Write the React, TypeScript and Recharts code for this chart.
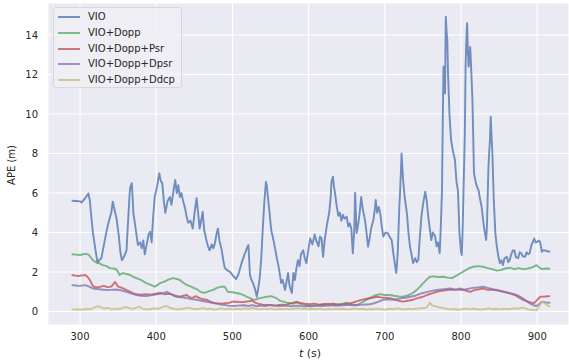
import React from 'react';
import { LineChart, Line, XAxis, YAxis, CartesianGrid, Label } from 'recharts';

// time stamps (s) and APE (m) per method
const vioT = [289, 295, 300, 302, 306, 311, 313, 314, 317, 320, 323, 325, 328, 331, 335, 338, 341, 343, 345, 348, 351, 353, 355, 358, 361, 363, 365, 366, 368, 369, 370, 373, 376, 379, 381, 383, 385, 388, 390, 392, 394, 396, 398, 401, 404, 406, 408, 410, 412, 415, 418, 420, 423, 425, 427, 429, 431, 433, 435, 438, 440, 442, 445, 448, 450, 453, 455, 457, 459, 461, 463, 466, 468, 470, 473, 475, 477, 479, 481, 483, 486, 488, 490, 493, 497, 501, 505, 508, 512, 516, 519, 521, 523, 525, 527, 530, 532, 534, 536, 538, 540, 542, 544, 545, 547, 549, 551, 554, 558, 561, 564, 566, 569, 571, 573, 575, 578, 580, 582, 584, 586, 588, 590, 593, 595, 597, 600, 602, 605, 608, 610, 613, 615, 617, 619, 621, 624, 627, 629, 630, 632, 633, 635, 637, 639, 641, 643, 645, 647, 650, 652, 654, 656, 658, 660, 661, 663, 665, 667, 669, 671, 674, 676, 678, 680, 682, 685, 687, 688, 690, 692, 694, 696, 698, 701, 704, 706, 709, 711, 713, 715, 717, 719, 720, 722, 724, 726, 729, 731, 733, 735, 737, 740, 742, 744, 746, 748, 750, 753, 755, 757, 759, 761, 763, 766, 768, 770, 772, 773, 775, 776, 777, 778, 779, 780, 781, 782, 783, 785, 787, 789, 792, 794, 796, 798, 800, 801, 802, 803, 805, 806, 807, 808, 809, 810, 811, 812, 813, 815, 817, 819, 821, 823, 825, 827, 830, 833, 834, 836, 837, 838, 839, 840, 841, 843, 845, 847, 849, 851, 853, 855, 857, 860, 862, 864, 866, 868, 870, 872, 875, 877, 879, 881, 884, 886, 888, 890, 892, 894, 896, 898, 900, 902, 904, 906, 908, 910, 913, 917];
const vioV = [5.61, 5.6, 5.58, 5.52, 5.7, 5.98, 5.6, 5.14, 3.97, 3.2, 2.45, 2.6, 2.7, 3.3, 4.1, 4.6, 5.0, 5.56, 5.2, 4.7, 3.8, 3.0, 2.6, 2.8, 3.1, 4.5, 5.9, 6.3, 6.5, 5.8, 5.0, 4.2, 3.37, 3.5, 3.2, 3.6, 2.9, 3.5, 3.9, 4.04, 3.5, 4.8, 5.8, 6.3, 7.0, 6.6, 6.5, 5.6, 5.0, 5.6, 5.8, 5.4, 6.2, 6.66, 6.0, 6.4, 5.8, 6.0, 5.65, 5.2, 4.8, 4.5, 4.6, 4.2, 4.9, 5.74, 5.0, 4.2, 4.6, 5.05, 4.1, 3.6, 3.3, 3.1, 3.4, 3.2, 3.45, 3.9, 4.2, 3.6, 3.1, 2.6, 2.2, 2.1, 2.0, 1.8, 1.65, 1.9, 2.45, 2.9, 3.2, 3.37, 1.85, 1.6, 1.44, 1.1, 0.75, 1.2, 1.76, 2.8, 4.3, 5.6, 6.57, 6.4, 5.65, 4.9, 4.1, 3.6, 2.77, 2.2, 1.44, 1.6, 1.09, 1.5, 1.95, 1.3, 0.94, 1.95, 1.6, 2.2, 2.6, 2.3, 2.9, 3.1, 2.7, 2.45, 3.2, 3.7, 3.4, 3.9, 3.6, 3.3, 3.8, 3.7, 2.77, 3.6, 4.38, 5.0, 5.8, 6.57, 6.83, 6.4, 5.9, 5.3, 4.85, 5.0, 4.6, 4.9, 4.7, 4.8, 4.3, 4.47, 4.2, 2.95, 4.2, 6.0, 3.97, 4.4, 5.0, 5.8, 5.2, 4.63, 4.0, 3.28, 3.7, 4.2, 4.63, 5.2, 5.65, 5.0, 5.3, 4.97, 4.3, 3.8, 4.0, 3.97, 3.8, 3.62, 3.0, 2.45, 1.95, 3.0, 5.3, 6.0, 8.0, 6.66, 5.8, 4.97, 4.0, 3.28, 2.9, 2.45, 2.7, 2.5, 2.62, 3.8, 4.8, 5.4, 6.07, 5.6, 4.8, 4.2, 3.62, 4.0, 3.8, 3.3, 3.5, 2.95, 3.8, 6.07, 9.5, 12.4, 12.0, 11.05, 14.93, 14.2, 13.75, 12.0, 9.86, 8.68, 8.2, 7.67, 6.6, 6.1, 3.97, 3.0, 2.86, 4.0, 5.65, 9.0, 12.4, 13.8, 14.6, 13.2, 12.4, 12.9, 13.4, 12.6, 10.7, 7.0, 6.6, 6.3, 6.15, 5.7, 5.3, 4.3, 3.62, 4.3, 7.33, 8.1, 8.68, 9.86, 8.9, 8.18, 5.65, 4.0, 3.28, 2.8, 2.45, 2.6, 2.35, 2.7, 2.77, 2.5, 2.62, 2.9, 3.1, 3.1, 2.75, 2.7, 3.0, 2.95, 2.8, 2.77, 3.0, 2.9, 2.95, 3.3, 3.5, 3.7, 3.5, 3.53, 3.6, 3.5, 3.03, 3.1, 3.1, 3.05, 3.03];

const doppT = [289, 295, 300, 304, 308, 311, 314, 317, 321, 325, 330, 335, 339, 344, 348, 352, 356, 361, 366, 370, 374, 380, 387, 392, 398, 402, 405, 410, 416, 422, 427, 431, 436, 440, 445, 449, 453, 458, 462, 466, 470, 475, 479, 485, 490, 494, 500, 505, 510, 514, 519, 523, 527, 531, 536, 541, 545, 551, 555, 558, 562, 567, 571, 576, 580, 585, 590, 597, 602, 608, 614, 620, 626, 632, 637, 643, 650, 656, 663, 668, 674, 680, 686, 693, 700, 707, 712, 718, 724, 730, 737, 742, 746, 750, 755, 759, 764, 770, 777, 782, 788, 793, 799, 804, 810, 816, 822, 829, 835, 841, 847, 852, 858, 864, 870, 876, 882, 888, 894, 899, 903, 906, 911, 917];
const doppV = [2.9, 2.88, 2.86, 2.9, 2.92, 2.88, 2.75, 2.6, 2.5, 2.45, 2.35, 2.3, 2.2, 2.18, 2.13, 1.85, 1.95, 1.9, 1.85, 1.75, 1.69, 1.6, 1.44, 1.36, 1.26, 1.35, 1.44, 1.5, 1.62, 1.69, 1.65, 1.6, 1.45, 1.35, 1.28, 1.2, 1.14, 1.0, 0.95, 0.98, 1.05, 1.1, 1.19, 1.26, 1.26, 1.0, 0.98, 0.94, 0.9, 0.84, 0.75, 0.68, 0.6, 0.62, 0.68, 0.72, 0.75, 0.78, 0.72, 0.68, 0.55, 0.5, 0.45, 0.42, 0.4, 0.45, 0.38, 0.33, 0.25, 0.3, 0.32, 0.35, 0.4, 0.36, 0.33, 0.38, 0.45, 0.36, 0.33, 0.42, 0.55, 0.68, 0.8, 0.88, 0.84, 0.84, 0.8, 0.76, 0.75, 0.82, 0.94, 1.1, 1.25, 1.43, 1.62, 1.76, 1.78, 1.75, 1.76, 1.72, 1.69, 1.8, 1.93, 2.05, 2.18, 2.27, 2.3, 2.27, 2.2, 2.15, 2.07, 2.1, 2.18, 2.22, 2.15, 2.2, 2.15, 2.18, 2.25, 2.35, 2.22, 2.15, 2.18, 2.17];

const psrT = [289, 294, 298, 303, 307, 310, 313, 316, 318, 322, 326, 331, 336, 341, 344, 346, 348, 350, 355, 361, 366, 370, 374, 380, 387, 393, 399, 405, 411, 418, 424, 431, 436, 440, 444, 448, 452, 457, 461, 466, 471, 475, 479, 485, 492, 497, 500, 505, 511, 517, 522, 526, 530, 535, 540, 545, 550, 556, 561, 566, 570, 575, 580, 584, 589, 595, 602, 608, 614, 620, 626, 632, 637, 643, 648, 654, 660, 666, 672, 678, 684, 689, 695, 701, 707, 713, 718, 724, 730, 737, 743, 750, 756, 762, 768, 774, 780, 786, 792, 799, 805, 812, 818, 823, 829, 835, 841, 847, 853, 858, 864, 870, 876, 882, 888, 895, 899, 904, 910, 917];
const psrV = [1.85, 1.82, 1.8, 1.83, 1.85, 1.75, 1.6, 1.35, 1.26, 1.22, 1.25, 1.3, 1.24, 1.26, 1.4, 1.5, 1.38, 1.26, 1.2, 1.09, 1.0, 0.92, 0.88, 0.85, 0.88, 0.86, 0.9, 0.94, 0.88, 0.9, 0.82, 0.75, 0.8, 0.84, 0.72, 0.7, 0.78, 0.68, 0.62, 0.6, 0.5, 0.45, 0.43, 0.4, 0.43, 0.45, 0.5, 0.5, 0.48, 0.5, 0.52, 0.56, 0.45, 0.38, 0.35, 0.33, 0.33, 0.3, 0.33, 0.35, 0.33, 0.4, 0.45, 0.5, 0.44, 0.4, 0.37, 0.4, 0.35, 0.38, 0.36, 0.4, 0.37, 0.36, 0.38, 0.41, 0.48, 0.55, 0.62, 0.66, 0.7, 0.75, 0.72, 0.7, 0.68, 0.6, 0.55, 0.5, 0.55, 0.6, 0.68, 0.75, 0.85, 0.92, 1.0, 1.05, 1.08, 1.12, 1.1, 1.17, 1.08, 1.0, 1.1, 1.12, 1.17, 1.1, 1.12, 1.09, 1.05, 1.0, 0.92, 0.85, 0.72, 0.58, 0.5, 0.41, 0.55, 0.75, 0.76, 0.78];

const dpsrT = [289, 294, 298, 303, 307, 311, 317, 322, 328, 335, 341, 347, 352, 356, 361, 367, 374, 380, 387, 393, 399, 405, 410, 414, 419, 423, 427, 433, 440, 448, 453, 458, 463, 466, 471, 475, 483, 490, 495, 500, 507, 515, 521, 526, 532, 538, 544, 549, 556, 563, 570, 577, 585, 593, 602, 610, 618, 626, 634, 641, 648, 654, 662, 670, 676, 680, 686, 692, 698, 704, 710, 715, 722, 727, 733, 740, 745, 750, 756, 762, 768, 774, 780, 786, 792, 798, 803, 809, 815, 822, 829, 835, 842, 849, 855, 861, 867, 873, 878, 884, 890, 895, 899, 903, 906, 911, 917];
const dpsrV = [1.34, 1.32, 1.3, 1.32, 1.34, 1.28, 1.17, 1.14, 1.12, 1.09, 1.1, 1.12, 1.09, 1.05, 1.0, 0.92, 0.84, 0.8, 0.78, 0.82, 0.86, 0.9, 0.95, 1.0, 0.9, 0.8, 0.75, 0.72, 0.68, 0.62, 0.6, 0.55, 0.52, 0.5, 0.46, 0.43, 0.37, 0.33, 0.3, 0.28, 0.3, 0.32, 0.28, 0.33, 0.27, 0.3, 0.28, 0.33, 0.3, 0.28, 0.3, 0.27, 0.3, 0.26, 0.28, 0.3, 0.28, 0.3, 0.32, 0.3, 0.33, 0.33, 0.32, 0.35, 0.36, 0.37, 0.42, 0.5, 0.6, 0.62, 0.6, 0.62, 0.68, 0.7, 0.75, 0.8, 0.88, 0.94, 1.0, 1.05, 1.09, 1.12, 1.14, 1.17, 1.12, 1.1, 1.09, 1.15, 1.2, 1.22, 1.26, 1.2, 1.12, 1.05, 1.0, 0.95, 0.9, 0.84, 0.75, 0.6, 0.41, 0.32, 0.28, 0.4, 0.5, 0.46, 0.45];

const ddcpT = [289, 294, 298, 303, 307, 312, 316, 320, 324, 328, 333, 337, 342, 347, 352, 357, 362, 367, 372, 377, 382, 387, 392, 397, 402, 407, 410, 414, 418, 423, 428, 433, 438, 442, 447, 452, 457, 461, 466, 471, 476, 481, 486, 491, 496, 501, 506, 511, 516, 521, 526, 531, 536, 541, 546, 551, 556, 561, 566, 571, 576, 581, 586, 591, 596, 601, 606, 611, 616, 621, 626, 631, 636, 641, 646, 651, 656, 661, 666, 671, 676, 681, 686, 691, 696, 701, 706, 711, 716, 721, 726, 731, 736, 741, 746, 751, 755, 759, 762, 766, 771, 776, 781, 786, 791, 796, 801, 806, 811, 816, 821, 826, 831, 836, 841, 846, 851, 856, 861, 866, 871, 876, 880, 885, 890, 895, 899, 903, 906, 910, 914, 917];
const ddcpV = [0.11, 0.1, 0.12, 0.1, 0.13, 0.12, 0.15, 0.22, 0.28, 0.2, 0.16, 0.18, 0.11, 0.15, 0.13, 0.2, 0.22, 0.14, 0.16, 0.25, 0.15, 0.11, 0.13, 0.16, 0.14, 0.2, 0.25, 0.28, 0.18, 0.14, 0.11, 0.13, 0.17, 0.2, 0.15, 0.12, 0.14, 0.18, 0.12, 0.15, 0.1, 0.13, 0.16, 0.12, 0.15, 0.11, 0.14, 0.12, 0.16, 0.13, 0.18, 0.14, 0.11, 0.15, 0.12, 0.16, 0.1, 0.14, 0.12, 0.15, 0.11, 0.14, 0.17, 0.12, 0.15, 0.11, 0.14, 0.12, 0.15, 0.1, 0.13, 0.11, 0.15, 0.12, 0.14, 0.1, 0.13, 0.16, 0.12, 0.14, 0.1, 0.13, 0.11, 0.15, 0.12, 0.1, 0.14, 0.12, 0.16, 0.13, 0.11, 0.15, 0.12, 0.14, 0.16, 0.18, 0.2, 0.45, 0.3, 0.28, 0.22, 0.18, 0.14, 0.11, 0.13, 0.1, 0.12, 0.15, 0.11, 0.14, 0.12, 0.1, 0.13, 0.16, 0.12, 0.14, 0.11, 0.15, 0.12, 0.14, 0.17, 0.15, 0.2, 0.15, 0.1, 0.08, 0.06, 0.3, 0.5, 0.42, 0.3, 0.25];

const xTicks = [300, 400, 500, 600, 700, 800, 900];
const yTicks = [0, 2, 4, 6, 8, 10, 12, 14];

const toRows = (ts: number[], vs: number[]) => ts.map((t, i) => ({ t, v: vs[i] }));

const series = [
  { name: 'VIO', color: '#4C72B0', data: toRows(vioT, vioV) },
  { name: 'VIO+Dopp', color: '#55A868', data: toRows(doppT, doppV) },
  { name: 'VIO+Dopp+Psr', color: '#C44E52', data: toRows(psrT, psrV) },
  { name: 'VIO+Dopp+Dpsr', color: '#8172B2', data: toRows(dpsrT, dpsrV) },
  { name: 'VIO+Dopp+Ddcp', color: '#CCB974', data: toRows(ddcpT, ddcpV) },
];

const font = '"DejaVu Sans", sans-serif';
const ink = '#262626';

export default function App() {
  return (
    <div style={{ position: 'absolute', left: 0, top: 0, width: 569, height: 360, fontFamily: font }}>
      <LineChart width={569} height={360} margin={{ top: 3, right: 0, bottom: 0, left: 0 }}>
        <CartesianGrid fill="#EAEAF2" stroke="#ffffff" strokeWidth={1.1} />
        <XAxis
          type="number"
          dataKey="t"
          domain={[258, 941.7]}
          ticks={xTicks}
          allowDataOverflow
          axisLine={false}
          tickLine={false}
          height={35}
          tick={{ fill: ink, fontSize: 10, fontFamily: font }}
        >
          <Label
            content={() => (
              <text x={310} y={357} textAnchor="middle" fill={ink} fontSize={11} fontFamily={font}>
                <tspan fontStyle="italic">t</tspan> (s)
              </text>
            )}
          />
        </XAxis>
        <YAxis
          type="number"
          domain={[-0.68, 15.62]}
          ticks={yTicks}
          allowDataOverflow
          axisLine={false}
          tickLine={false}
          width={48}
          tickMargin={4}
          tick={{ fill: ink, fontSize: 10, fontFamily: font }}
        >
          <Label
            content={() => (
              <text x={15} y={165} transform="rotate(-90 15 165)" textAnchor="middle" fill={ink} fontSize={10} fontFamily={font}>
                APE (m)
              </text>
            )}
          />
        </YAxis>
        {series.map((s) => (
          <Line
            key={s.name}
            data={s.data}
            dataKey="v"
            name={s.name}
            type="linear"
            stroke={s.color}
            strokeOpacity={0.78}
            strokeWidth={1.9}
            strokeLinejoin="round"
            dot={false}
            activeDot={false}
            isAnimationActive={false}
          />
        ))}
      </LineChart>
      <div
        style={{
          position: 'absolute',
          left: 53,
          top: 7,
          width: 129,
          height: 81,
          border: '1px solid #D6D6DE',
          borderRadius: 3,
          background: 'rgba(238,238,244,0.85)',
          boxSizing: 'border-box',
        }}
      >
        {series.map((s, i) => (
          <div key={s.name} style={{ position: 'absolute', left: 4, top: 2 + i * 15.8, height: 14, display: 'flex', alignItems: 'center' }}>
            <span style={{ display: 'block', width: 22, height: 2, background: s.color, opacity: 0.75 }} />
            <span style={{ marginLeft: 8, fontSize: 10, color: ink, lineHeight: '14px', whiteSpace: 'nowrap' }}>{s.name}</span>
          </div>
        ))}
      </div>
    </div>
  );
}
